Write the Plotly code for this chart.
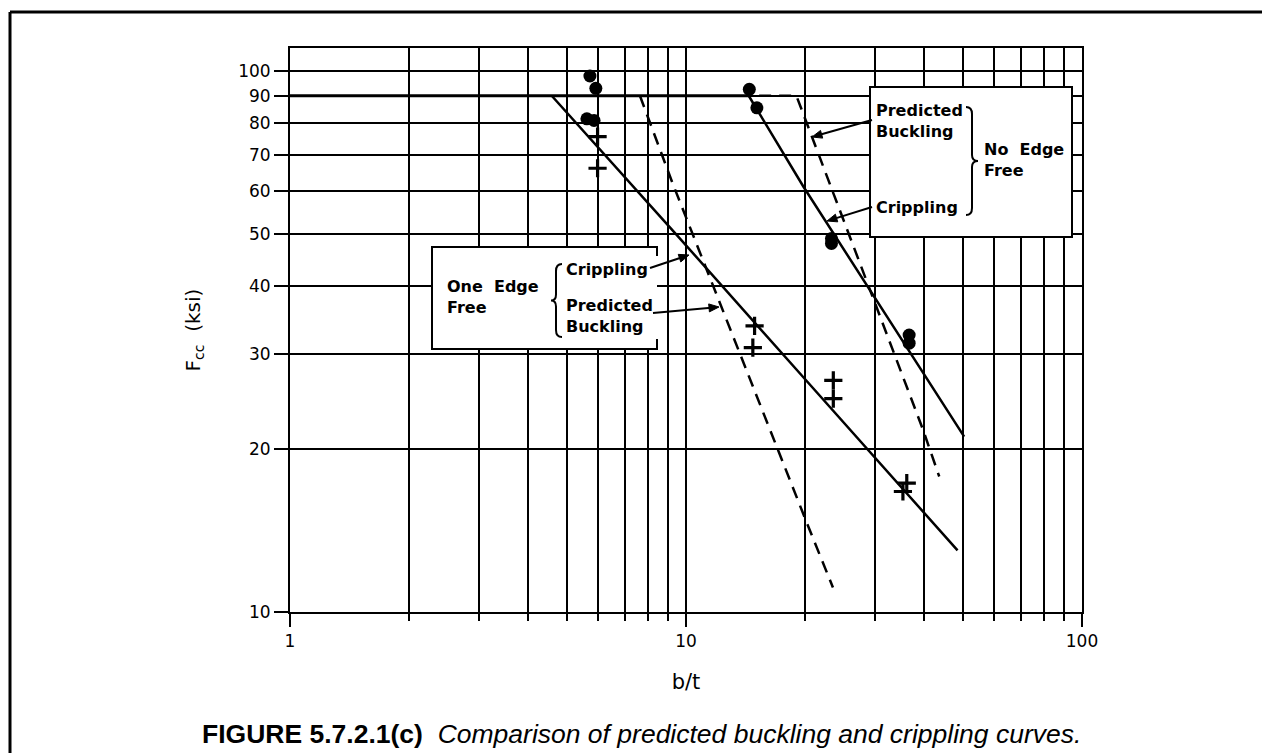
import math
import plotly.graph_objects as go

# ---------------- data ----------------
# test data: crippling tests (filled circles)
crip_test_x = [5.72, 5.92, 5.62, 5.86, 14.45, 15.1, 23.3, 23.3, 36.6, 36.6]
crip_test_y = [97.9, 92.9, 81.6, 81.0, 92.5, 85.5, 49.0, 48.0, 32.5, 31.4]

# test data: buckling tests (crosses)
buck_test_x = [5.98, 5.98, 14.9, 14.75, 23.55, 23.55, 36.1, 35.3]
buck_test_y = [75.6, 66.1, 33.8, 30.8, 26.8, 24.8, 17.3, 16.7]

# cutoff at 90 ksi
cutoff_x = [1.0, 14.4]
cutoff_y = [90, 90]

# One edge free curves
one_crip_x = [4.58, 9.47, 20.2, 48.5]
one_crip_y = [90, 49.8, 26.7, 13.0]
one_buck_x = [7.65, 9.29, 20.2, 23.5]
one_buck_y = [90, 61.5, 14.6, 11.1]

# No edge free curves
no_crip_x = [14.4, 19.8, 50.4]
no_crip_y = [90, 61.1, 21.1]
no_buck_x = [15.3, 19.0, 39.7, 43.6]
no_buck_y = [90, 90, 21.7, 17.8]

# axis ticks
y_ticks = [10, 20, 30, 40, 50, 60, 70, 80, 90, 100]
x_major = [1, 10, 100]
x_minor = [2, 3, 4, 5, 6, 7, 8, 9, 20, 30, 40, 50, 60, 70, 80, 90]

# ---------------- layout geometry ----------------
W, H = 1262, 753
L, R, T, B = 290, 180, 48, 141
PW, PH = W - L - R, H - T - B


def px(x):
    return (x - L) / PW


def py(y):
    return (H - B - y) / PH


FONT = "DejaVu Sans"
BLK = "black"

fig = go.Figure()

fig.add_trace(go.Scatter(x=cutoff_x, y=cutoff_y, mode="lines",
                         line=dict(color=BLK, width=3), hoverinfo="skip"))
fig.add_trace(go.Scatter(x=one_crip_x, y=one_crip_y, mode="lines",
                         line=dict(color=BLK, width=2.5)))
fig.add_trace(go.Scatter(x=one_buck_x, y=one_buck_y, mode="lines",
                         line=dict(color=BLK, width=2.5, dash="12px,8px")))
fig.add_trace(go.Scatter(x=no_crip_x, y=no_crip_y, mode="lines",
                         line=dict(color=BLK, width=2.5)))
fig.add_trace(go.Scatter(x=no_buck_x, y=no_buck_y, mode="lines",
                         line=dict(color=BLK, width=2.5, dash="12px,8px")))
fig.add_trace(go.Scatter(x=crip_test_x, y=crip_test_y, mode="markers",
                         marker=dict(symbol="circle", size=13, color=BLK)))
fig.add_trace(go.Scatter(x=buck_test_x, y=buck_test_y, mode="markers",
                         marker=dict(symbol="cross-thin", size=13,
                                     line=dict(color=BLK, width=3.2))))

fig.update_layout(
    width=W, height=H, autosize=False,
    margin=dict(l=L, r=R, t=T, b=B, pad=0),
    paper_bgcolor="white", plot_bgcolor="white",
    showlegend=False,
    font=dict(family=FONT, color=BLK, size=16),
)

fig.update_xaxes(
    type="log", range=[0, 2],
    tickmode="array", tickvals=x_major, ticktext=["1", "10", "100"],
    ticks="outside", ticklen=13, tickwidth=2, tickcolor=BLK,
    showgrid=True, gridcolor=BLK, gridwidth=2,
    showline=True, linecolor=BLK, linewidth=2, mirror=True,
    zeroline=False,
    tickfont=dict(family=FONT, size=17, color=BLK),
    title=dict(text="b/t", font=dict(family=FONT, size=21, color=BLK),
               standoff=24),
    minor=dict(tickmode="array", tickvals=x_minor, ticks="outside",
               ticklen=7, tickwidth=2, tickcolor=BLK,
               showgrid=True, gridcolor=BLK, gridwidth=2),
)
fig.update_yaxes(
    type="log", range=[1, 1 + 564 / 541],
    tickmode="array", tickvals=y_ticks, ticktext=[str(v) for v in y_ticks],
    ticks="outside", ticklen=14, tickwidth=2, tickcolor=BLK,
    showgrid=True, gridcolor=BLK, gridwidth=2,
    showline=True, linecolor=BLK, linewidth=2, mirror=True,
    zeroline=False,
    tickfont=dict(family=FONT, size=17, color=BLK),
    title=dict(text="F<sub>cc</sub>&nbsp;&nbsp;(ksi)",
               font=dict(family=FONT, size=20, color=BLK), standoff=32),
)

shapes = []
# outer figure frame (only left and top visible)
shapes.append(dict(type="line", xref="paper", yref="paper",
                   x0=px(10), y0=py(12), x1=px(1275), y1=py(12),
                   line=dict(color=BLK, width=3)))
shapes.append(dict(type="line", xref="paper", yref="paper",
                   x0=px(10), y0=py(12), x1=px(10), y1=py(770),
                   line=dict(color=BLK, width=3)))

# box 1 (one edge free), open on the right side except corner stubs
shapes.append(dict(type="rect", xref="paper", yref="paper",
                   x0=px(432), y0=py(349), x1=px(657), y1=py(247),
                   fillcolor="white", line=dict(width=0), layer="above"))
p1 = (f"M {px(657)},{py(256)} L {px(657)},{py(247)} L {px(432)},{py(247)} "
      f"L {px(432)},{py(349)} L {px(657)},{py(349)} L {px(657)},{py(339)}")
shapes.append(dict(type="path", xref="paper", yref="paper", path=p1,
                   line=dict(color=BLK, width=2), layer="above"))

# box 2 (no edge free)
shapes.append(dict(type="rect", xref="paper", yref="paper",
                   x0=px(870), y0=py(237), x1=px(1072), y1=py(87),
                   fillcolor="white", line=dict(color=BLK, width=2),
                   layer="above"))


def brace(xs, y0, y1, tip, direction):
    # direction -1: "{" (tip to the left), +1: "}" (tip to the right)
    d = 6 * direction
    ym = (y0 + y1) / 2
    xb = xs + d
    return (f"M {px(xs)},{py(y0)} Q {px(xb)},{py(y0)} {px(xb)},{py(y0 + 7)} "
            f"L {px(xb)},{py(ym - 6)} Q {px(xb)},{py(ym)} {px(tip)},{py(ym)} "
            f"Q {px(xb)},{py(ym)} {px(xb)},{py(ym + 6)} "
            f"L {px(xb)},{py(y1 - 7)} Q {px(xb)},{py(y1)} {px(xs)},{py(y1)}")


shapes.append(dict(type="path", xref="paper", yref="paper",
                   path=brace(562, 264, 337, 551, -1),
                   line=dict(color=BLK, width=2), layer="above"))
shapes.append(dict(type="path", xref="paper", yref="paper",
                   path=brace(966, 107, 215, 978, 1),
                   line=dict(color=BLK, width=2), layer="above"))


def arrow(x_tip, y_tip, x_tail, y_tail):
    dx, dy = x_tip - x_tail, y_tip - y_tail
    n = math.hypot(dx, dy)
    ux, uy = dx / n, dy / n
    hl, hw = 10, 4
    bx, by = x_tip - ux * hl, y_tip - uy * hl
    shapes.append(dict(type="line", xref="paper", yref="paper",
                       x0=px(x_tail), y0=py(y_tail), x1=px(bx + ux * 2),
                       y1=py(by + uy * 2), line=dict(color=BLK, width=2),
                       layer="above"))
    lx, ly = bx - uy * hw, by + ux * hw
    rx, ry = bx + uy * hw, by - ux * hw
    path = (f"M {px(x_tip)},{py(y_tip)} L {px(lx)},{py(ly)} "
            f"L {px(rx)},{py(ry)} Z")
    shapes.append(dict(type="path", xref="paper", yref="paper", path=path,
                       fillcolor=BLK, line=dict(color=BLK, width=1),
                       layer="above"))


arrow(689, 255, 650, 268)
arrow(719, 307, 653, 313)
arrow(812, 137, 872, 120)
arrow(827, 221, 872, 207)

fig.update_layout(shapes=shapes)

ann = []


def text(x, y, s, size=16, xanchor="left", bold=True, angle=0, fam=FONT):
    ann.append(dict(xref="paper", yref="paper", x=px(x), y=py(y),
                    text=(f"<b>{s}</b>" if bold else s), showarrow=False,
                    xanchor=xanchor, yanchor="middle", textangle=angle,
                    font=dict(family=fam, size=size, color=BLK), align="left"))


# box 1 texts
text(445, 297, "One&nbsp;&nbsp;Edge<br>Free")
text(564, 269, "Crippling")
text(564, 316, "Predicted<br>Buckling")
# box 2 texts
text(874, 121, "Predicted<br>Buckling")
text(982, 160, "No&nbsp;&nbsp;Edge<br>Free")
text(874, 207, "Crippling")

# caption
text(641, 734,
     "<b>FIGURE 5.7.2.1(c)</b>&nbsp;&nbsp;<i>Comparison of predicted buckling and crippling curves.</i>",
     size=26.5, xanchor="center", bold=False, fam="Liberation Sans")

fig.update_layout(annotations=ann)

fig.write_html("out.html", config={"displayModeBar": False},
               post_script="document.body.style.margin='0';")
